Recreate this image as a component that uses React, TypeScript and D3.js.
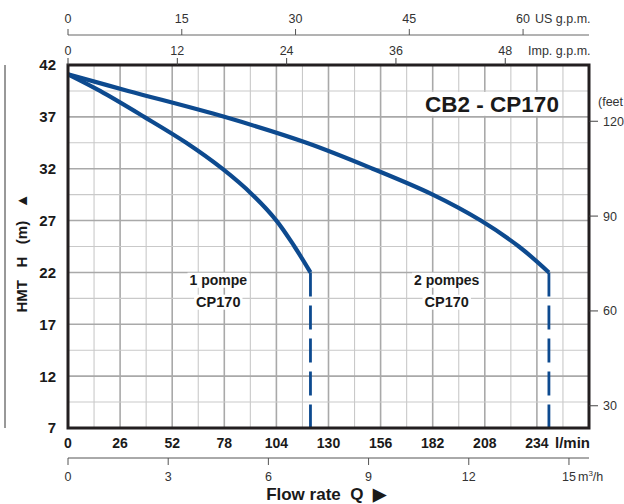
import React, { useLayoutEffect, useRef, useState } from "react";
import * as d3 from "d3";

// ---- data ----
const flowLpm1 = [0, 16, 38, 59, 77, 92, 104, 113, 121];
const head1 = [41.1, 39.5, 37, 34.5, 32, 29.5, 27, 24.5, 22];
const flowLpm2 = [0, 30, 78, 119, 152, 182, 206, 225, 240];
const head2 = [41.1, 39.5, 37, 34.5, 32, 29.5, 27, 24.5, 22];

const lpmTicks = [0, 26, 52, 78, 104, 130, 156, 182, 208, 234];
const headTicks = [42, 37, 32, 27, 22, 17, 12, 7];
const usGpmTicks = [0, 15, 30, 45, 60];
const impGpmTicks = [0, 12, 24, 36, 48];
const m3hTicks = [0, 3, 6, 9, 12, 15];
const feetTicks = [120, 90, 60, 30];

const curveLabels = [
  { lpm: 75, h: 21.3, line1: "1 pompe", line2: "CP170" },
  { lpm: 189, h: 21.3, line1: "2 pompes", line2: "CP170" },
];

const W = 624;
const H = 504;
const BLUE = "#0d4a8f";
const FONT = "'Liberation Sans', Arial, Helvetica, sans-serif";

const x = d3.scaleLinear().domain([0, 260]).range([68, 589]);
const y = d3.scaleLinear().domain([7, 42]).range([428, 65]);

const US_GPM = 3.785;
const IMP_GPM = 4.546;
const M3H = 1000 / 60;
const FT = 3.2808;

function Boxed({ tx, ty, children, pad = 2, size, weight, anchor = "middle" }: any) {
  const ref = useRef<SVGTextElement>(null);
  const [bb, setBb] = useState<any>(null);
  useLayoutEffect(() => {
    if (ref.current) {
      const b = ref.current.getBBox();
      setBb({ x: b.x, y: b.y, w: b.width, h: b.height });
    }
  }, []);
  return (
    <g>
      {bb && (
        <rect x={bb.x - pad} y={bb.y + 1} width={bb.w + pad * 2} height={bb.h - 1} fill="#fff" />
      )}
      <text ref={ref} x={tx} y={ty} textAnchor={anchor} fontSize={size} fontWeight={weight} fill="#1a1a1a">
        {children}
      </text>
    </g>
  );
}

export default function App() {
  const line1 = d3
    .line<number>()
    .x((_, i) => x(flowLpm1[i]))
    .y((d) => y(d))
    .curve(d3.curveCatmullRom.alpha(0.5));
  const line2 = d3
    .line<number>()
    .x((_, i) => x(flowLpm2[i]))
    .y((d) => y(d))
    .curve(d3.curveCatmullRom.alpha(0.5));

  const vGrid = d3.range(13, 260, 13);
  const hGrid = d3.range(9.5, 42, 2.5);

  const end1 = flowLpm1[flowLpm1.length - 1];
  const end2 = flowLpm2[flowLpm2.length - 1];
  const endH1 = head1[head1.length - 1];
  const endH2 = head2[head2.length - 1];

  return (
    <svg
      width={W}
      height={H}
      style={{ position: "absolute", left: 0, top: 0, display: "block", background: "#fff" }}
      fontFamily={FONT}
    >
      {/* grid */}
      {vGrid.map((v) => (
        <line
          key={"v" + v}
          x1={x(v)}
          x2={x(v)}
          y1={y(42)}
          y2={y(7)}
          stroke={v % 26 === 0 ? "#a9a9a9" : "#c9c9c9"}
          strokeWidth={v % 26 === 0 ? 1.6 : 1.1}
        />
      ))}
      {hGrid.map((v) => (
        <line
          key={"h" + v}
          x1={x(0)}
          x2={x(260)}
          y1={y(v)}
          y2={y(v)}
          stroke={(v - 7) % 5 === 0 ? "#a9a9a9" : "#c9c9c9"}
          strokeWidth={(v - 7) % 5 === 0 ? 1.6 : 1.1}
        />
      ))}

      {/* curves */}
      <path d={line1(head1) || ""} fill="none" stroke={BLUE} strokeWidth={4.2} strokeLinejoin="round" />
      <path d={line2(head2) || ""} fill="none" stroke={BLUE} strokeWidth={4.2} strokeLinejoin="round" />
      <line x1={x(end1)} x2={x(end1)} y1={y(endH1)} y2={y(7)} stroke={BLUE} strokeWidth={2.8} strokeDasharray="24 9" />
      <line x1={x(end2)} x2={x(end2)} y1={y(endH2)} y2={y(7)} stroke={BLUE} strokeWidth={2.8} strokeDasharray="24 9" />

      {/* curve labels */}
      {curveLabels.map((l) => (
        <g key={l.line1}>
          <Boxed tx={x(l.lpm)} ty={y(l.h) + 5} size={14} weight="bold">
            {l.line1}
          </Boxed>
          <Boxed tx={x(l.lpm)} ty={y(l.h) + 27} size={14.5} weight="bold">
            {l.line2}
          </Boxed>
        </g>
      ))}

      {/* title */}
      <rect x={422} y={y(39.5) + 1} width={140} height={y(37) - y(39.5) - 2} fill="#fff" />
      <text x={492} y={112} textAnchor="middle" fontSize={22.5} fontWeight="bold" fill="#1a1a1a">
        CB2 - CP170
      </text>

      {/* frame */}
      <rect x={x(0)} y={y(42)} width={x(260) - x(0)} height={y(7) - y(42)} fill="none" stroke="#231f20" strokeWidth={3} />

      {/* left axis */}
      {headTicks.map((t) => (
        <text key={"ht" + t} x={56} y={y(t)} dy="0.36em" textAnchor="end" fontSize={15} fontWeight="bold" fill="#1a1a1a">
          {t}
        </text>
      ))}
      <line x1={5} x2={5} y1={y(42)} y2={y(7)} stroke="#333" strokeWidth={1} />
      <text
        transform={`translate(27,${253}) rotate(-90)`}
        textAnchor="middle"
        fontSize={15}
        fontWeight="bold"
        fill="#1a1a1a"
        style={{ whiteSpace: "pre" }}
      >
        {"HMT   H   (m)   \u25B2"}
      </text>

      {/* right axis feet */}
      <text x={598} y={106} fontSize={12.5} fill="#333">
        (feet
      </text>
      {feetTicks.map((t) => (
        <g key={"ft" + t}>
          <line x1={x(260)} x2={598} y1={y(t / FT)} y2={y(t / FT)} stroke="#444" strokeWidth={1} />
          <text x={603} y={y(t / FT)} dy="0.36em" fontSize={12.5} fill="#333">
            {t}
          </text>
        </g>
      ))}

      {/* bottom l/min labels */}
      {lpmTicks.map((t) => (
        <text key={"lt" + t} x={x(t)} y={448} textAnchor="middle" fontSize={14} fontWeight="bold" fill="#1a1a1a">
          {t}
        </text>
      ))}
      <text x={555} y={448} fontSize={15} fontWeight="bold" fill="#1a1a1a">
        l/min
      </text>

      {/* m3/h axis */}
      <line x1={x(0)} x2={x(260)} y1={458} y2={458} stroke="#555" strokeWidth={1} />
      {m3hTicks.map((t) => (
        <g key={"mt" + t}>
          <line x1={x(t * M3H)} x2={x(t * M3H)} y1={458} y2={465} stroke="#555" strokeWidth={1} />
          <text x={x(t * M3H)} y={481} textAnchor="middle" fontSize={12.5} fill="#333">
            {t}
          </text>
        </g>
      ))}
      <text x={x(15 * M3H) + 9} y={481} fontSize={12.5} fill="#333">
        m<tspan dy={-5} fontSize={8}>3</tspan>
        <tspan dy={5}>/h</tspan>
      </text>
      <text x={326} y={500} textAnchor="middle" fontSize={17} fontWeight="bold" fill="#1a1a1a" style={{ whiteSpace: "pre" }}>
        {"Flow rate  Q  \u25B6"}
      </text>

      {/* top US gpm axis */}
      <line x1={x(0)} x2={x(260)} y1={35} y2={35} stroke="#666" strokeWidth={1} />
      {usGpmTicks.map((t) => (
        <g key={"us" + t}>
          <line x1={x(t * US_GPM)} x2={x(t * US_GPM)} y1={29} y2={35} stroke="#555" strokeWidth={1} />
          <text x={x(t * US_GPM)} y={23} textAnchor="middle" fontSize={12.5} fill="#333">
            {t}
          </text>
        </g>
      ))}
      <text x={535} y={23} fontSize={12.5} fill="#333">
        US g.p.m.
      </text>

      {/* top Imp gpm axis */}
      {impGpmTicks.map((t) => (
        <g key={"imp" + t}>
          <line x1={x(t * IMP_GPM)} x2={x(t * IMP_GPM)} y1={58} y2={65} stroke="#444" strokeWidth={1} />
          <text x={x(t * IMP_GPM)} y={55} textAnchor="middle" fontSize={12.5} fill="#333">
            {t}
          </text>
        </g>
      ))}
      <text x={528} y={55} fontSize={12.5} fill="#333">
        Imp. g.p.m.
      </text>
    </svg>
  );
}
